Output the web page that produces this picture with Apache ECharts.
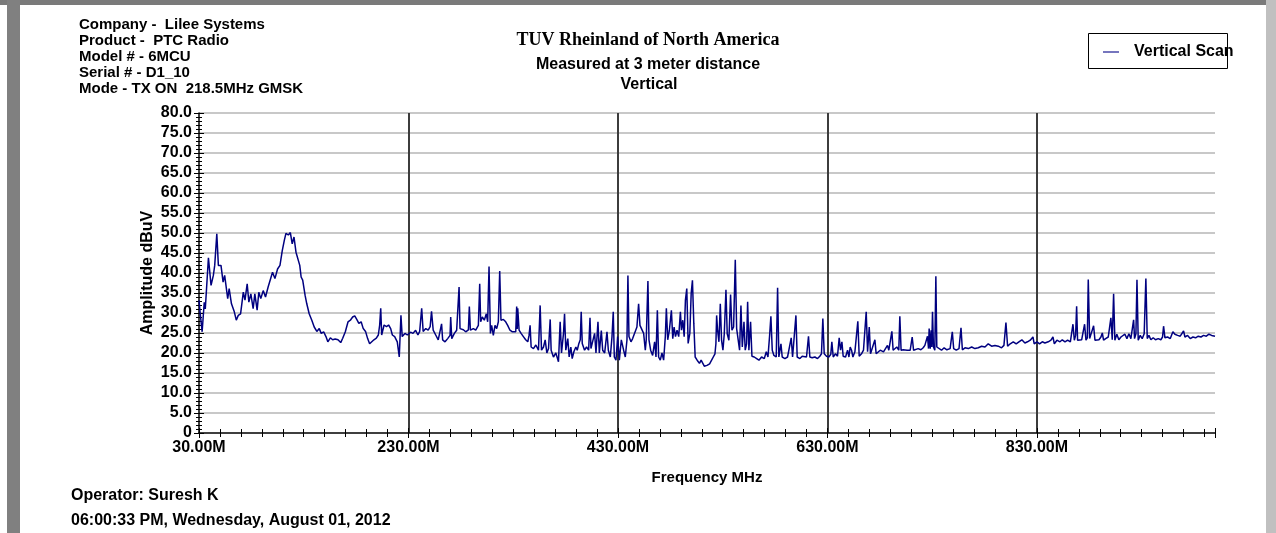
<!DOCTYPE html>
<html>
<head>
<meta charset="utf-8">
<script src="https://cdn.jsdelivr.net/npm/echarts@6/dist/echarts.min.js"></script>
<style>
html,body{margin:0;padding:0;background:#fff;}
#chart{width:1276px;height:533px;}
</style>
</head>
<body>
<div id="chart"></div>
<script>
// ---------- data ----------
const seriesName = 'Vertical Scan';
const freqMHz = [
  30, 31, 33, 35, 36, 39, 41.5, 43.7, 45, 47,
  48.5, 51, 53, 54.5, 57.4, 58.8, 61, 63.7, 65.6, 67.5,
  69.7, 72.3, 73.9, 76, 77.6, 79.5, 81.7, 83.3, 85.5, 87.1,
  89, 91.3, 93.5, 96, 97.7, 100.2, 102.5, 105, 107.3, 109.5,
  111.4, 113, 115.3, 117.2, 119, 120.7, 122.6, 124.2, 126.2, 127.5,
  129, 131.3, 132.9, 135.2, 137.7, 140, 142.5, 144.8, 146.7, 149,
  151.2, 153, 155.4, 157.6, 160, 162.7, 165.3, 167.2, 169.7, 172.3,
  174.5, 176.7, 178.7, 181, 182.6, 184.8, 186.8, 189, 191, 192.9,
  194.8, 197, 199.3, 201.2, 202.5, 203.5, 204.4, 206.7, 209, 211,
  213, 214.6, 216.8, 219.3, 221.2, 222.8, 224, 226.6, 228.9, 232,
  234.3, 236.8, 239, 240.7, 242.6, 244, 246.5, 248.8, 250.7, 252,
  253.6, 256, 258.4, 260.3, 261.6, 262.6,
  264.9, 267.4, 269.7, 270.3, 271.3, 273.8, 276.0, 277.6, 278.3, 279.2,
  282.4, 284.6, 287.2, 288.1, 289.1, 291.9, 294.2, 296.7, 298.0, 298.9,
  300.5, 302.4, 304.3, 305.6, 306.9, 308.2, 309.4, 311.0, 312.6, 314.2,
  315.8, 317.1, 318.3, 320.6, 322.8, 324.7, 326.9, 329.2, 331.1, 332.4,
  333.3, 333.8, 334.3, 335.6, 337.5, 339.7, 341.9, 343.9, 345.1, 346.1,
  347.1, 349.3, 351.6, 354.1, 355.7, 357.0, 358.9, 360.5, 362.1, 363.7,
  365.3, 366.2, 368.4, 370.7, 373.2, 374.8, 376.1, 378.0, 379.0, 380.2,
  382.1, 383.4, 385.0, 386.3, 387.9, 389.8, 391.1, 392.7, 394.0, 394.9,
  395.9, 398.1, 400.0, 402.0, 403.3, 404.2, 405.8, 407.7, 409.0, 410.9,
  412.2, 414.1, 415.4, 417.3, 419.5, 420.8, 422.7, 424.3, 425.5, 426.5,
  428.1, 429.7, 431.3, 433.2, 435.4, 437.0, 438.6, 439.5, 440.5, 442.4,
  444.0, 445.9, 448.1, 449.7, 451.0, 452.9, 454.5, 456.1, 457.0, 458.6,
  459.6, 461.2, 463.1, 465.0, 466.3, 467.6, 468.8, 470.4, 472.0, 473.6,
  475.2, 476.2, 477.5, 479.1, 481.0, 482.3, 483.6, 484.9, 486.4, 488.0,
  489.6, 490.6, 491.9, 493.2, 494.4, 495.7, 497.0, 498.6, 499.9, 501.1,
  502.4, 503.7, 505.6, 507.8, 509.4,
  512.4, 515.0, 517.5, 519.4, 521.0, 522.6, 523.5, 524.2, 525.1, 526.4,
  527.7, 528.9, 530.2, 531.5, 533.1, 534.3, 535.9, 537.5, 538.8, 540.4,
  542.0, 543.3, 544.8, 546.1, 547.4, 548.7, 550.3, 551.5, 552.8, 553.8,
  555.0, 556.6, 557.9, 560.1, 562.4, 564.6, 567.1, 569.7, 571.6, 573.2,
  574.8, 576.0, 577.3, 578.9, 581.1, 582.4, 583.6, 585.6, 586.8, 589.4,
  591.9, 593.8, 595.4, 596.7, 598.3, 599.9, 601.1, 603.7, 605.9, 607.8,
  610.0, 611.9, 613.2, 615.4, 618.0, 620.5, 622.7, 624.3, 625.6, 626.9,
  629.1, 631.3, 633.2, 634.2, 635.5, 637.7, 639.6, 641.2, 642.5, 643.8,
  645.0, 647.3, 649.2, 650.5, 651.7, 653.0, 654.3, 656.2, 657.8, 659.0,
  660.3, 662.5, 664.4, 665.7, 667.0, 668.3, 669.9, 671.1, 673.0, 675.3,
  676.5, 678.4, 680.4, 681.6, 683.5, 685.4, 687.3, 688.6, 690.2, 691.5,
  692.7, 694.3, 696.2, 698.1, 699.1, 700.3, 702.3, 704.2, 706.1, 707.7,
  709.0, 710.9, 712.2, 714.1, 716.6, 719.2, 721.4, 723.0, 724.6, 725.5,
  726.5, 727.1, 728.1, 729.0, 729.6, 730.3, 731.2, 732.5, 733.5, 734.4,
  736.3, 738.9, 741.4, 744.0, 747.1,
  749.2, 750.5, 753.0, 755.6, 757.5, 758.8, 761.3, 764.5, 767.7, 770.8,
  774.0, 777.2, 780.4, 783.5, 786.7, 789.9, 793.1, 796.2, 798.5, 800.4,
  802.0, 804.5, 807.4, 810.2, 812.8, 815.6, 818.5, 821.0, 823.6, 826.2,
  827.4, 830.0, 832.5, 835.1, 837.6, 840.8, 843.4, 845.3, 846.6, 849.1,
  852.0, 854.2, 856.8, 859.3, 861.9, 863.1, 864.4, 865.7, 866.9, 867.9,
  868.8, 870.7, 872.7, 874.3, 875.5, 876.8, 878.1, 879.0, 880.3, 882.2,
  884.1, 885.4, 887.3, 889.2, 891.1, 892.4, 893.6, 895.6, 898.1, 899.4,
  900.6, 901.9, 903.2, 904.4, 906.3, 908.2, 910.2, 912.1, 914.0, 915.9,
  917.8, 919.7, 921.0, 922.3, 923.2, 924.5, 925.5, 926.7, 928.6, 930.5,
  932.4, 934.0, 935.3, 936.9, 938.8, 941.0, 943.2, 945.8, 948.3, 949.9,
  950.9, 952.2, 954.7, 957.3, 959.8, 961.7, 964.3, 966.8, 968.7, 970.0,
  971.3, 973.8, 976.4, 978.9, 981.5, 984.0, 986.6, 989.1, 991.7, 994.2,
  996.8, 998.7, 1000.0
];
const ampDbuV = [
  33.2, 30.3, 25.3, 32.7, 31.0, 43.8, 36.9, 39.4, 41.9, 49.8,
  41.9, 41.9, 37.7, 39.4, 33.6, 36.1, 32.3, 30.3, 28.2, 29.4,
  29.8, 35.2, 33.2, 37.3, 32.7, 34.8, 31.1, 34.8, 30.7, 35.2,
  33.6, 35.6, 34.0, 36.5, 36.1, 40.2, 38.6, 41.0, 41.9, 45.6,
  48.1, 49.9, 49.5, 50.1, 47.3, 49.0, 45.2, 45.4, 41.9, 39.0,
  38.2, 34.4, 32.3, 29.8, 28.2, 26.5, 25.4, 26.1, 24.9, 25.3,
  24.1, 22.8, 23.8, 23.3, 23.5, 23.3, 22.6, 23.7, 25.3, 27.8,
  28.2, 29.0, 29.3, 28.2, 27.4, 27.8, 26.1, 25.4, 23.6, 22.3,
  22.8, 23.3, 23.7, 24.5, 27.0, 31.2, 24.5, 27.0, 26.6, 27.0,
  26.1, 24.5, 24.1, 22.8, 19.0, 29.4, 24.1, 24.9, 24.5, 25.2,
  24.9, 25.7, 24.5, 25.4, 31.2, 25.4, 26.1, 25.7, 26.6, 30.4,
  25.7, 24.5, 23.3, 23.7, 27.3, 23.3,
  22.8, 23.6, 24.4, 29.0, 23.6, 24.9, 25.7, 26.1, 36.5, 26.1,
  25.8, 25.3, 25.8, 31.6, 25.7, 26.1, 25.7, 26.9, 37.3, 27.8,
  29.0, 28.2, 29.8, 27.8, 41.6, 24.9, 26.9, 24.4, 26.9, 26.1,
  27.8, 40.5, 28.2, 28.4, 27.8, 26.9, 25.7, 25.3, 24.9, 25.3,
  31.6, 26.0, 31.2, 25.7, 24.9, 24.1, 23.3, 22.8, 24.4, 26.9,
  21.5, 21.1, 22.0, 20.7, 31.9, 20.7, 21.5, 23.3, 20.0, 21.1,
  28.4, 20.7, 19.0, 20.0, 17.8, 27.8, 20.0, 24.9, 29.8, 20.7,
  23.6, 19.0, 21.5, 18.6, 20.3, 21.5, 20.7, 22.4, 23.3, 30.3,
  22.4, 20.7, 21.5, 20.7, 28.8, 21.1, 20.7, 24.9, 20.0, 27.8,
  20.0, 25.6, 20.7, 20.0, 25.3, 20.7, 19.0, 24.1, 30.3, 19.0,
  18.2, 24.1, 18.2, 23.3, 20.7, 19.0, 23.3, 39.4, 24.1, 22.8,
  23.6, 23.3, 26.5, 32.3, 26.9, 26.5, 24.9, 20.7, 23.3, 38.0,
  23.3, 20.7, 19.4, 22.8, 19.0, 30.7, 19.0, 18.2, 20.0, 18.2,
  24.1, 31.2, 23.3, 25.7, 30.7, 23.6, 26.5, 24.1, 25.7, 24.1,
  30.3, 25.7, 28.2, 24.1, 33.2, 36.1, 22.4, 24.9, 34.9, 38.2,
  27.4, 19.0, 18.2, 17.4, 18.2,
  16.7, 16.9, 17.3, 18.2, 19.0, 19.8, 22.3, 29.4, 25.7, 22.8,
  32.3, 23.2, 20.7, 24.8, 35.8, 24.8, 23.2, 34.6, 25.7, 26.5,
  43.3, 26.1, 23.2, 20.7, 31.9, 21.5, 27.8, 20.7, 22.3, 32.8,
  20.7, 27.8, 19.2, 19.0, 18.6, 18.2, 19.0, 18.6, 20.3, 19.0,
  24.4, 29.2, 20.7, 19.4, 19.0, 36.3, 19.0, 22.3, 19.0, 18.6,
  19.0, 19.4, 23.8, 19.0, 19.2, 29.4, 19.0, 18.6, 19.2, 19.2,
  19.0, 24.2, 19.0, 18.8, 19.0, 18.6, 19.2, 19.8, 28.6, 19.8,
  19.2, 19.0, 19.7, 22.8, 19.0, 19.8, 19.2, 23.8, 20.7, 22.8,
  19.2, 19.0, 20.7, 19.0, 21.5, 20.7, 19.0, 20.3, 19.8, 27.9,
  19.2, 19.8, 20.7, 20.3, 30.3, 20.3, 26.5, 19.8, 20.3, 23.3,
  19.8, 20.0, 20.7, 21.1, 20.3, 20.8, 21.9, 20.7, 21.1, 25.4,
  20.7, 20.8, 21.5, 20.7, 29.2, 20.7, 20.8, 21.3, 20.7, 21.1,
  20.7, 24.0, 20.7, 20.8, 21.1, 20.8, 21.3, 21.9, 21.5, 24.2,
  21.1, 26.1, 21.1, 25.7, 21.5, 30.3, 21.5, 20.7, 39.2, 21.5,
  21.1, 20.7, 21.3, 20.8, 21.1,
  25.3, 21.1, 20.7, 21.1, 26.3, 20.8, 21.3, 21.1, 21.5, 21.1,
  21.3, 21.7, 21.5, 22.3, 21.7, 21.9, 21.7, 21.3, 21.9, 27.6,
  21.7, 22.3, 22.8, 22.3, 22.8, 23.3, 22.5, 22.8, 23.2, 24.0,
  22.3, 22.8, 22.3, 22.8, 22.5, 22.8, 23.2, 24.0, 22.3, 23.2,
  22.8, 23.3, 22.8, 23.2, 22.8, 23.2, 27.2, 23.2, 24.4, 31.7,
  23.2, 23.6, 23.3, 22.8, 27.2, 23.2, 23.8, 38.4, 23.6, 23.2,
  26.8, 23.2, 23.6, 23.3, 24.0, 25.0, 23.2, 23.6, 24.0, 23.8,
  28.8, 23.3, 34.8, 23.2, 24.7, 23.3, 24.0, 23.6, 24.7, 23.6,
  24.8, 23.6, 23.8, 28.3, 23.6, 24.8, 38.3, 23.2, 24.4, 23.6,
  24.8, 38.6, 23.6, 24.4, 23.3, 23.8, 23.3, 23.6, 23.3, 24.0,
  26.7, 23.8, 24.0, 23.6, 25.3, 24.7, 24.4, 24.2, 24.7, 25.5,
  24.0, 24.4, 23.6, 24.0, 23.8, 24.2, 24.0, 24.4, 24.2, 24.7,
  24.4, 24.8, 24.2
];
const freqStart = 30;      // first x tick (MHz)
const freqEnd = 1000;      // right end of the scan (MHz)
const freqStep = 200;      // labelled tick step (MHz)
const ampMin = 0, ampMax = 80, ampStep = 5;

const headerLines = [
  'Company -  Lilee Systems',
  'Product -  PTC Radio',
  'Model # - 6MCU',
  'Serial # - D1_10',
  'Mode - TX ON  218.5MHz GMSK'
];
const titleMain = 'TUV Rheinland of North America';
const titleSub1 = 'Measured at 3 meter distance';
const titleSub2 = 'Vertical';
const footer1 = 'Operator: Suresh K';
const footer2 = '06:00:33 PM, Wednesday, August 01, 2012';
const xName = 'Frequency MHz';
const yName = 'Amplitude dBuV';

// ---------- chart ----------
const SANS = '"Liberation Sans", Arial, sans-serif';
const SERIF = '"Liberation Serif", "Times New Roman", serif';
const n = Math.min(freqMHz.length, ampDbuV.length);
const scanData = [];
for (let i = 0; i < n; i++) scanData.push([freqMHz[i] - freqStart, ampDbuV[i]]);

const chart = echarts.init(document.getElementById('chart'), null, {renderer: 'canvas'});

const xBase = {
  type: 'value', min: 0, max: freqEnd - freqStart, interval: freqStep,
  gridIndex: 0, position: 'bottom'
};
const yBase = {
  type: 'value', min: ampMin, max: ampMax, interval: ampStep,
  gridIndex: 0, position: 'left'
};

const option = {
  animation: false,
  backgroundColor: '#ffffff',
  grid: {left: 199, top: 113, width: 1016, height: 320, containLabel: false},
  xAxis: [
    Object.assign({}, xBase, {
      name: xName, nameLocation: 'middle', nameGap: 37, nameMoveOverlap: false,
      nameTextStyle: {fontFamily: SANS, fontWeight: 'bold', fontSize: 15, color: '#000'},
      axisLine: {show: true, onZero: false, lineStyle: {color: '#000', width: 1.5}},
      axisTick: {show: true, length: 5, lineStyle: {color: '#000', width: 1}},
      minorTick: {show: true, splitNumber: 10, length: 4, lineStyle: {color: '#000', width: 1}},
      axisLabel: {
        formatter: v => (v + freqStart).toFixed(2) + 'M',
        showMaxLabel: false, margin: 7,
        fontFamily: SANS, fontWeight: 'bold', fontSize: 16, color: '#000'
      },
      splitLine: {show: true, showMinLine: false, showMaxLine: false,
        lineStyle: {color: '#3c3c3c', width: 2}}
    }),
    Object.assign({}, xBase, {
      axisLine: {show: false},
      axisTick: {show: true, inside: true, length: 5, lineStyle: {color: '#000', width: 1}},
      minorTick: {show: true, splitNumber: 10, length: 4, lineStyle: {color: '#000', width: 1}},
      axisLabel: {show: false},
      splitLine: {show: false}
    })
  ],
  yAxis: [
    Object.assign({}, yBase, {
      name: yName, nameLocation: 'middle', nameGap: 43, nameRotate: 90, nameMoveOverlap: false,
      nameTextStyle: {fontFamily: SANS, fontWeight: 'bold', fontSize: 16, color: '#000'},
      axisLine: {show: true, onZero: false, lineStyle: {color: '#000', width: 1.5}},
      axisTick: {show: true, length: 5, lineStyle: {color: '#000', width: 1}},
      minorTick: {show: true, splitNumber: 5, length: 3, lineStyle: {color: '#000', width: 1}},
      axisLabel: {
        formatter: v => (v === 0 ? '0' : v.toFixed(1)),
        margin: 7,
        fontFamily: SANS, fontWeight: 'bold', fontSize: 16, color: '#000'
      },
      splitLine: {show: true, showMinLine: false, lineStyle: {color: '#c8c8c8', width: 2}}
    }),
    Object.assign({}, yBase, {
      axisLine: {show: false},
      axisTick: {show: true, inside: true, length: 5, lineStyle: {color: '#000', width: 1}},
      minorTick: {show: true, splitNumber: 5, length: 3, lineStyle: {color: '#000', width: 1}},
      axisLabel: {show: false},
      splitLine: {show: false}
    })
  ],
  series: [{
    name: seriesName,
    type: 'line',
    xAxisIndex: 0, yAxisIndex: 0,
    data: scanData,
    showSymbol: false,
    symbol: 'none',
    lineStyle: {color: '#000080', width: 1.5},
    z: 5
  }],
  graphic: [
    // frame
    {type: 'rect', shape: {x: 0, y: 0, width: 1276, height: 5}, style: {fill: '#7a7a7a'}, z: 100},
    {type: 'rect', shape: {x: 7, y: 0, width: 13, height: 533}, style: {fill: '#808080'}, z: 100},
    {type: 'rect', shape: {x: 1266, y: 0, width: 10, height: 533}, style: {fill: '#c0c0c0'}, z: 100},
    // header block
    {type: 'text', x: 79, y: 16.5, z: 100,
      style: {text: headerLines.join('\n'), font: 'bold 15px ' + SANS, lineHeight: 16, fill: '#000',
        textAlign: 'left', textVerticalAlign: 'top'}},
    // titles
    {type: 'text', x: 648, y: 40, z: 100,
      style: {text: titleMain, font: 'bold 18px ' + SERIF, fill: '#000', textAlign: 'center', textVerticalAlign: 'middle'}},
    {type: 'text', x: 648, y: 64.5, z: 100,
      style: {text: titleSub1, font: 'bold 16px ' + SANS, fill: '#000', textAlign: 'center', textVerticalAlign: 'middle'}},
    {type: 'text', x: 649, y: 85, z: 100,
      style: {text: titleSub2, font: 'bold 16px ' + SANS, fill: '#000', textAlign: 'center', textVerticalAlign: 'middle'}},
    // legend
    {type: 'rect', z: 100, shape: {x: 1088.5, y: 33.5, width: 139, height: 35},
      style: {fill: '#fff', stroke: '#000', lineWidth: 1}},
    {type: 'line', z: 101, shape: {x1: 1103, y1: 52, x2: 1119, y2: 52},
      style: {stroke: '#4848a8', lineWidth: 1.5}},
    {type: 'text', x: 1134, y: 52, z: 101,
      style: {text: seriesName, font: 'bold 16px ' + SANS, fill: '#000', textAlign: 'left', textVerticalAlign: 'middle'}},
    // footer
    {type: 'text', x: 71, y: 496, z: 100,
      style: {text: footer1, font: 'bold 16px ' + SANS, fill: '#000', textAlign: 'left', textVerticalAlign: 'middle'}},
    {type: 'text', x: 71, y: 521, z: 100,
      style: {text: footer2, font: 'bold 16px ' + SANS, fill: '#000', textAlign: 'left', textVerticalAlign: 'middle'}}
  ]
};
chart.setOption(option);
</script>
</body>
</html>
